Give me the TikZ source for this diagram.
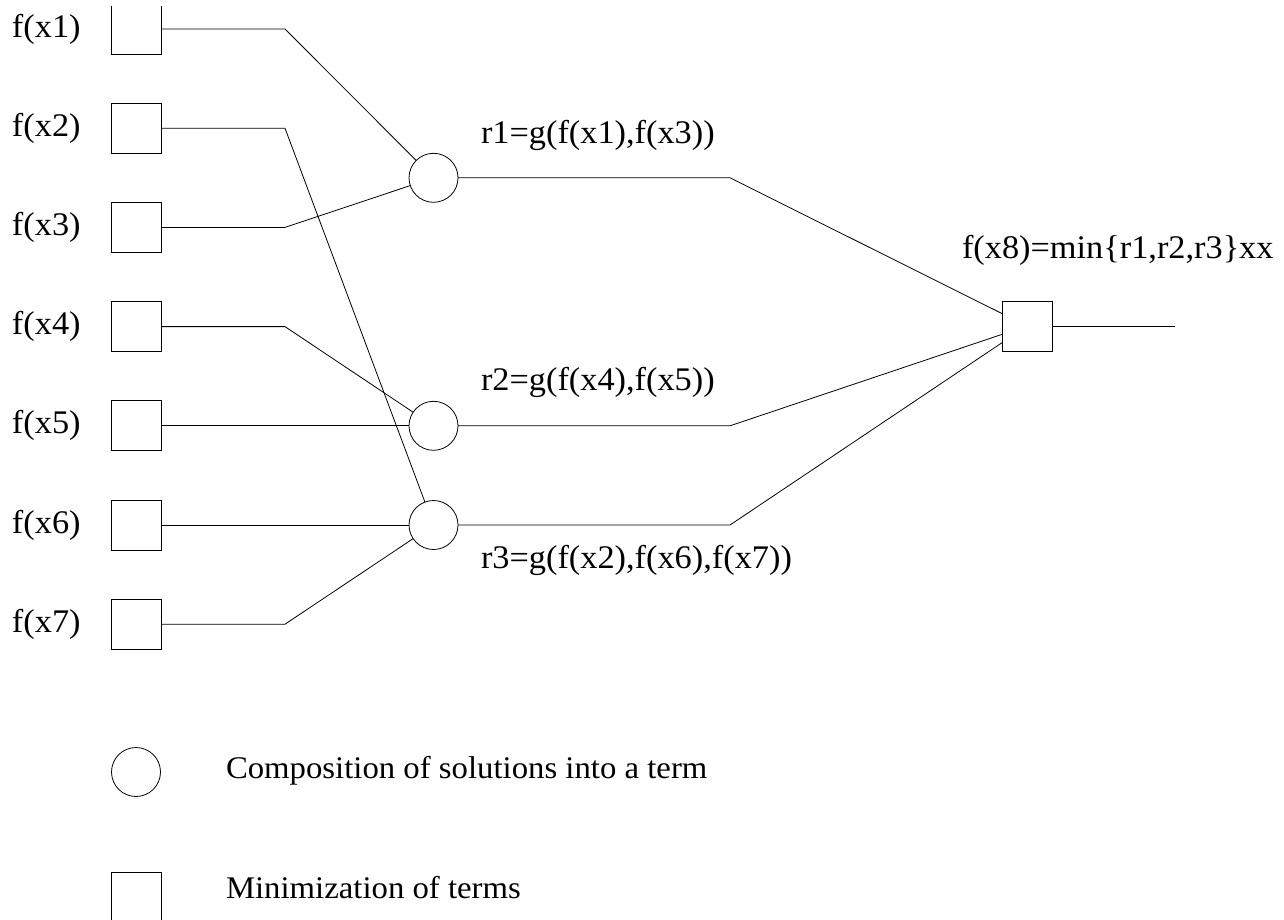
\documentclass[tikz,border=0pt]{standalone}
\usepackage{fontspec}
\setmainfont{Liberation Serif}[FakeStretch=1.04]
\begin{document}
\begin{tikzpicture}[x=1pt,y=-1pt,
  line width=0.8pt,
  sq/.style={draw,rectangle,minimum size=50pt,inner sep=0pt,outer sep=0pt},
  cir/.style={draw,circle,minimum size=49pt,inner sep=0pt,outer sep=0pt},
  lbl/.style={inner sep=0pt,outer sep=0pt,font=\fontsize{33}{35}\selectfont},
  leg/.style={inner sep=0pt,outer sep=0pt,font=\fontsize{31.5}{33}\selectfont},
  ]
\useasboundingbox (0,0) rectangle (1284,919);
\begin{scope}
\clip (0,6) rectangle (1284,919);
% input boxes
\foreach \i/\y in {1/29,2/128.2,3/227.4,4/326.6,5/425.8,6/525,7/624.2}{
  \node[sq] (b\i) at (136,\y) {};
  \node[lbl,anchor=west] (l\i) at (12,\y) {f(x\i)};
}
% composition circles
\node[cir] (c1) at (433.5,177.8) {};
\node[cir] (c2) at (433.5,425.8) {};
\node[cir] (c3) at (433.5,525) {};
% minimization box
\node[sq] (m) at (1027,326) {};
\coordinate (bx) at (285,0);
\coordinate (rx) at (730,0);
\coordinate (out) at (1175,326);
% connectors
\draw (b1.east) -- (b1.east -| bx) -- (c1);
\draw (b3.east) -- (b3.east -| bx) -- (c1);
\draw (b2.east) -- (b2.east -| bx) -- (c3);
\draw (b4.east) -- (b4.east -| bx) -- (c2);
\draw (b5.east) -- (c2);
\draw (b6.east) -- (c3);
\draw (b7.east) -- (b7.east -| bx) -- (c3);
\draw (c1.east) -- (c1.east -| rx) -- (m);
\draw (c2.east) -- (c2.east -| rx) -- (m);
\draw (c3.east) -- (c3.east -| rx) -- (m);
\draw (m.east) -- (out);
% labels
\node[lbl,anchor=base west] (r1) at (481,143) {r1=g(f(x1),f(x3))};
\node[lbl,anchor=base west] (r2) at (481,390) {r2=g(f(x4),f(x5))};
\node[lbl,anchor=base west] (r3) at (481,568) {r3=g(f(x2),f(x6),f(x7))};
\node[lbl,anchor=base west] (r8) at (962,258) {f(x8)=min\{r1,r2,r3\}xx};
% legend
\node[cir] (lc) at (136,772) {};
\node[leg,anchor=base west] (lct) at (226,778) {Composition of solutions into a term};
\node[sq] (ls) at (136,897) {};
\node[leg,anchor=base west] (lst) at (226,898) {Minimization of terms};
\end{scope}
\end{tikzpicture}
\end{document}
